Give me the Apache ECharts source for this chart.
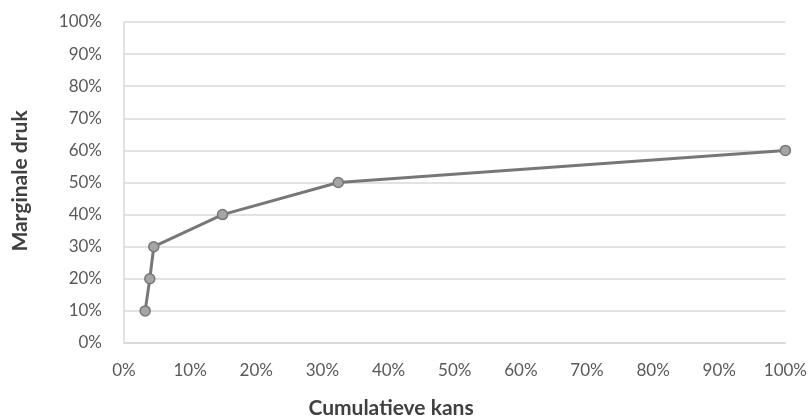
<!DOCTYPE html>
<html>
<head>
<meta charset="utf-8">
<script src="https://cdn.jsdelivr.net/npm/echarts@6/dist/echarts.min.js"></script>
<style>
html,body{margin:0;padding:0;background:#fff;}
#chart{width:810px;height:417px;}
</style>
</head>
<body>
<div id="chart"></div>
<script>
const cumulatieveKans = [3.2, 3.9, 4.5, 14.9, 32.4, 100];
const marginaleDruk = [10, 20, 30, 40, 50, 60];
const xTitle = 'Cumulatieve kans';
const yTitle = 'Marginale druk';

const points = cumulatieveKans.map((x, i) => [x, marginaleDruk[i]]);
const chart = echarts.init(document.getElementById('chart'));
const font = 'Lato, "Open Sans", sans-serif';
chart.setOption({
  animation: false,
  grid: { left: 124, right: 24, top: 22, bottom: 74, containLabel: false },
  xAxis: {
    type: 'value', min: 0, max: 100, interval: 10,
    axisLine: { show: true, lineStyle: { color: '#d9d9d9', width: 1.5 } },
    axisTick: { show: false },
    splitLine: { show: false },
    axisLabel: { formatter: '{value}%', color: '#595959', fontSize: 17, fontFamily: font, margin: 19 }
  },
  yAxis: {
    type: 'value', min: 0, max: 100, interval: 10,
    axisLine: { show: true, lineStyle: { color: '#d9d9d9', width: 1.5 } },
    axisTick: { show: false },
    splitLine: { show: true, lineStyle: { color: '#d9d9d9', width: 1.5 } },
    axisLabel: { formatter: '{value}%', color: '#595959', fontSize: 17, fontFamily: font, margin: 22 }
  },
  graphic: [
    { type: 'text', x: 391, y: 408, style: { text: xTitle, fill: '#404040', font: 'bold 21px ' + font, align: 'center', verticalAlign: 'middle' } },
    { type: 'text', rotation: Math.PI / 2, x: 20, y: 181, style: { text: yTitle, fill: '#404040', font: 'bold 21px ' + font, align: 'center', verticalAlign: 'middle' } }
  ],
  series: [{
    type: 'line',
    data: points,
    symbol: 'circle',
    symbolSize: 10,
    lineStyle: { color: '#777777', width: 3 },
    itemStyle: { color: '#a5a5a5', borderColor: '#777777', borderWidth: 1.5 }
  }]
});
</script>
</body>
</html>
